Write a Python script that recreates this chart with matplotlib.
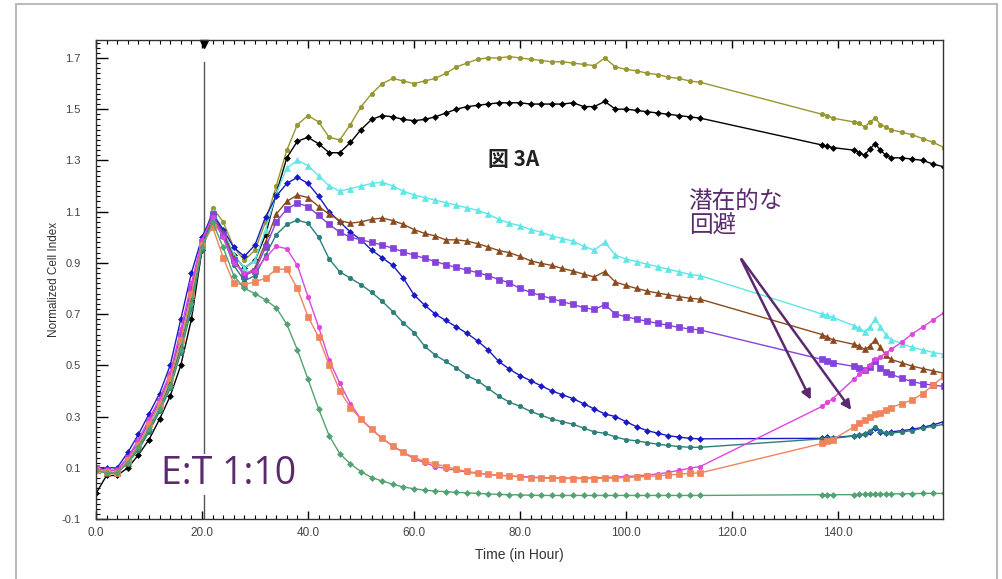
import matplotlib
matplotlib.use("Agg")
import matplotlib.pyplot as plt
from matplotlib.ticker import MultipleLocator, FormatStrFormatter, FixedLocator
from matplotlib.patches import Rectangle

# sample times (hours): dense run up to 114 h, then gap, then tail
hours = list(range(0, 115, 2)) + [137, 138, 139, 143, 144, 145, 146, 147,
                                  148, 149, 150, 152, 154, 156, 158, 160]

olive = [0.09, 0.085, 0.08, 0.12, 0.18, 0.25, 0.33, 0.43, 0.57, 0.75, 0.96,
         1.115, 1.06, 0.96, 0.91, 0.95, 1.06, 1.20, 1.34, 1.44, 1.475,
         1.45, 1.39, 1.38, 1.44, 1.51, 1.56, 1.60, 1.62, 1.61, 1.60,
         1.61, 1.62, 1.64, 1.665, 1.68, 1.695, 1.70, 1.70, 1.705, 1.70,
         1.695, 1.69, 1.685, 1.685, 1.68, 1.675, 1.67, 1.70, 1.665, 1.655,
         1.65, 1.64, 1.635, 1.625, 1.62, 1.61, 1.605,
         1.48, 1.475, 1.465, 1.45, 1.445, 1.43, 1.45, 1.465, 1.44, 1.43,
         1.42, 1.41, 1.40, 1.385, 1.37, 1.35]

black = [0.0, 0.07, 0.07, 0.10, 0.15, 0.21, 0.29, 0.38, 0.50, 0.68, 0.95,
         1.08, 1.02, 0.93, 0.88, 0.91, 1.01, 1.17, 1.31, 1.375, 1.39,
         1.365, 1.33, 1.33, 1.37, 1.42, 1.46, 1.475, 1.47, 1.46, 1.455,
         1.46, 1.47, 1.485, 1.50, 1.51, 1.515, 1.52, 1.525, 1.525, 1.525,
         1.52, 1.52, 1.52, 1.52, 1.525, 1.51, 1.51, 1.53, 1.50, 1.50,
         1.495, 1.49, 1.485, 1.48, 1.475, 1.47, 1.465,
         1.36, 1.355, 1.35, 1.34, 1.33, 1.32, 1.345, 1.365, 1.34, 1.32,
         1.31, 1.31, 1.305, 1.30, 1.285, 1.275]

cyan = [0.09, 0.085, 0.08, 0.13, 0.19, 0.26, 0.34, 0.44, 0.59, 0.77, 0.97,
        1.10, 1.03, 0.93, 0.88, 0.91, 1.03, 1.17, 1.27, 1.30, 1.28,
        1.24, 1.20, 1.18, 1.19, 1.20, 1.21, 1.215, 1.20, 1.18, 1.165,
        1.155, 1.145, 1.135, 1.125, 1.115, 1.105, 1.09, 1.07, 1.055, 1.045,
        1.03, 1.02, 1.005, 0.995, 0.985, 0.965, 0.95, 0.98, 0.93, 0.915,
        0.905, 0.895, 0.885, 0.875, 0.865, 0.855, 0.85,
        0.70, 0.695, 0.687, 0.655, 0.645, 0.632, 0.65, 0.68, 0.65, 0.62,
        0.60, 0.585, 0.57, 0.56, 0.55, 0.543]

blue = [0.10, 0.10, 0.10, 0.16, 0.23, 0.31, 0.39, 0.50, 0.68, 0.86, 1.00,
        1.09, 1.03, 0.96, 0.925, 0.97, 1.08, 1.16, 1.21, 1.234, 1.21,
        1.16, 1.10, 1.06, 1.02, 0.99, 0.95, 0.92, 0.89, 0.84, 0.775,
        0.735, 0.70, 0.675, 0.65, 0.625, 0.595, 0.56, 0.515, 0.485, 0.46,
        0.44, 0.42, 0.40, 0.385, 0.37, 0.35, 0.33, 0.31, 0.30, 0.28,
        0.26, 0.245, 0.235, 0.225, 0.22, 0.215, 0.213,
        0.215, 0.22, 0.218, 0.225, 0.228, 0.232, 0.24, 0.255, 0.24, 0.235,
        0.24, 0.245, 0.25, 0.258, 0.268, 0.28]

brown = [0.09, 0.08, 0.08, 0.12, 0.18, 0.25, 0.33, 0.43, 0.57, 0.75, 0.96,
         1.08, 1.02, 0.92, 0.85, 0.88, 0.98, 1.09, 1.14, 1.165, 1.155,
         1.12, 1.09, 1.065, 1.055, 1.06, 1.07, 1.075, 1.065, 1.05, 1.03,
         1.015, 1.005, 0.99, 0.99, 0.985, 0.975, 0.962, 0.948, 0.94, 0.925,
         0.908, 0.898, 0.89, 0.878, 0.868, 0.856, 0.845, 0.866, 0.825, 0.812,
         0.80, 0.79, 0.782, 0.775, 0.768, 0.762, 0.758,
         0.62, 0.61, 0.60, 0.582, 0.575, 0.562, 0.575, 0.60, 0.57, 0.54,
         0.523, 0.51, 0.497, 0.487, 0.478, 0.469]

purple = [0.10, 0.09, 0.09, 0.14, 0.20, 0.28, 0.36, 0.46, 0.62, 0.80, 0.98,
          1.09, 1.01, 0.91, 0.85, 0.87, 0.96, 1.06, 1.11, 1.133, 1.12,
          1.085, 1.05, 1.02, 1.00, 0.99, 0.98, 0.97, 0.957, 0.943, 0.93,
          0.918, 0.905, 0.893, 0.882, 0.872, 0.862, 0.85, 0.835, 0.822, 0.80,
          0.785, 0.772, 0.76, 0.748, 0.738, 0.725, 0.718, 0.737, 0.70, 0.69,
          0.68, 0.672, 0.664, 0.656, 0.648, 0.642, 0.638,
          0.523, 0.515, 0.51, 0.496, 0.49, 0.48, 0.495, 0.516, 0.49, 0.475,
          0.465, 0.45, 0.436, 0.428, 0.422, 0.418]

teal = [0.09, 0.08, 0.08, 0.12, 0.17, 0.24, 0.32, 0.41, 0.55, 0.72, 0.95,
        1.07, 1.00, 0.89, 0.83, 0.85, 0.93, 1.01, 1.05, 1.067, 1.055,
        1.00, 0.915, 0.865, 0.84, 0.815, 0.785, 0.75, 0.71, 0.665, 0.628,
        0.575, 0.54, 0.515, 0.49, 0.46, 0.44, 0.41, 0.38, 0.356, 0.34,
        0.32, 0.305, 0.29, 0.28, 0.27, 0.255, 0.24, 0.235, 0.22, 0.21,
        0.205, 0.198, 0.192, 0.187, 0.183, 0.18, 0.18,
        0.213, 0.215, 0.215, 0.224, 0.228, 0.232, 0.245, 0.26, 0.245, 0.235,
        0.235, 0.24, 0.245, 0.255, 0.262, 0.27]

magenta = [0.10, 0.09, 0.09, 0.14, 0.21, 0.29, 0.37, 0.47, 0.64, 0.82, 0.99,
           1.08, 1.00, 0.90, 0.86, 0.87, 0.92, 0.965, 0.955, 0.89, 0.768,
           0.65, 0.52, 0.43, 0.35, 0.29, 0.25, 0.215, 0.185, 0.16, 0.135,
           0.12, 0.105, 0.097, 0.09, 0.083, 0.078, 0.074, 0.07, 0.069, 0.066,
           0.064, 0.062, 0.061, 0.06, 0.06, 0.06, 0.061, 0.062, 0.064, 0.066,
           0.068, 0.072, 0.076, 0.082, 0.09, 0.098, 0.105,
           0.34, 0.355, 0.37, 0.446, 0.465, 0.483, 0.503, 0.523, 0.533, 0.548,
           0.562, 0.59, 0.623, 0.65, 0.678, 0.706]

orange = [0.09, 0.085, 0.08, 0.13, 0.19, 0.27, 0.35, 0.45, 0.60, 0.78, 0.97,
          1.04, 0.92, 0.82, 0.815, 0.826, 0.84, 0.875, 0.875, 0.80, 0.69,
          0.61, 0.50, 0.40, 0.335, 0.29, 0.25, 0.215, 0.185, 0.16, 0.14,
          0.125, 0.115, 0.105, 0.094, 0.086, 0.08, 0.075, 0.071, 0.068, 0.064,
          0.062, 0.06, 0.059, 0.058, 0.058, 0.058, 0.058, 0.059, 0.06, 0.062,
          0.064, 0.066, 0.069, 0.072, 0.075, 0.078, 0.08,
          0.195, 0.205, 0.21, 0.26, 0.275, 0.285, 0.30, 0.31, 0.315, 0.325,
          0.335, 0.35, 0.365, 0.39, 0.425, 0.457]

green = [0.09, 0.08, 0.08, 0.12, 0.18, 0.25, 0.33, 0.42, 0.56, 0.74, 0.96,
         1.06, 0.96, 0.85, 0.80, 0.78, 0.755, 0.725, 0.66, 0.56, 0.446,
         0.33, 0.225, 0.155, 0.115, 0.085, 0.062, 0.048, 0.036, 0.025, 0.018,
         0.013, 0.009, 0.007, 0.004, 0.002, 0.0, -0.002, -0.004, -0.005, -0.006,
         -0.007, -0.008, -0.008, -0.008, -0.008, -0.008, -0.008, -0.008, -0.008, -0.008,
         -0.008, -0.008, -0.008, -0.008, -0.008, -0.008, -0.008,
         -0.005, -0.005, -0.005, -0.005, -0.004, -0.004, -0.004, -0.003, -0.003, -0.003,
         -0.002, -0.002, -0.001, 0.0, 0.0, 0.0]

# (values, colour, marker, size)
series = [
    (olive, "#979630", "o", 3.2),
    (black, "#000000", "D", 3.0),
    (cyan, "#5fe6e6", "^", 3.8),
    (blue, "#1a1ac4", "D", 3.0),
    (brown, "#8b4a1e", "^", 3.8),
    (purple, "#8642dc", "s", 3.8),
    (teal, "#2c7f7a", "o", 3.2),
    (magenta, "#e044e0", "o", 3.2),
    (orange, "#f0845a", "s", 3.8),
    (green, "#52a272", "D", 3.0),
]

x_ticks = [0, 20, 40, 60, 80, 100, 120, 140]
y_ticks = [-0.1, 0.1, 0.3, 0.5, 0.7, 0.9, 1.1, 1.3, 1.5, 1.7]
dose_time = 20.4

plt.rcParams['font.family'] = ['Liberation Sans', 'DejaVu Sans']

fig = plt.figure(figsize=(10.02, 5.79), dpi=100)
ax = fig.add_axes([0.0958, 0.1036, 0.8453, 0.8273])

for vals, col, mk, ms in series:
    ax.plot(hours, vals, '-', color=col, lw=1.0, marker=mk, ms=ms,
            markeredgewidth=0.5, markeredgecolor=col)

# compound addition marker
ax.axvline(dose_time, ymax=0.955, color="#555555", lw=1.0, zorder=0)
ax.plot([dose_time], [1.755], marker="v", color="black", ms=6, clip_on=False)

ax.set_xlim(0, 159.8)
ax.set_ylim(-0.1, 1.77)

ax.xaxis.set_major_locator(FixedLocator(x_ticks))
ax.xaxis.set_minor_locator(MultipleLocator(2))
ax.yaxis.set_major_locator(FixedLocator(y_ticks))
ax.yaxis.set_minor_locator(MultipleLocator(0.02))
ax.xaxis.set_major_formatter(FormatStrFormatter('%.1f'))
ax.yaxis.set_major_formatter(FormatStrFormatter('%.1f'))

ax.tick_params(axis='y', which='major', direction='in', length=8.5, width=1,
               labelsize=8, labelcolor="#444444", pad=11, left=True, right=False)
ax.tick_params(axis='y', which='minor', direction='in', length=3, width=0.8,
               left=True, right=False)
ax.tick_params(axis='x', which='major', direction='in', length=6, width=1,
               labelsize=8.5, labelcolor="#444444", pad=6, top=True, bottom=True)
ax.tick_params(axis='x', which='minor', direction='in', length=3, width=0.8,
               top=True, bottom=True)

for sp in ax.spines.values():
    sp.set_color("#333333")
    sp.set_linewidth(1.0)

ax.set_xlabel("Time (in Hour)", fontsize=10, color="#333333", labelpad=6)
ax.set_ylabel("Normalized Cell Index", fontsize=8.5, color="#333333", labelpad=1)

ax.text(12.3, 0.0, "E:T 1:10", fontsize=27, color="#5b2a6e", family="Open Sans",
        ha="left", va="bottom",
        bbox=dict(facecolor="white", edgecolor="none", pad=1))
ax.text(78.8, 1.305, "図 3A", fontsize=15, weight="bold", color="#222222",
        family=["Noto Sans CJK JP", "DejaVu Sans"], ha="center", va="center")
ax.text(111.8, 1.09, "潜在的な\n回避", fontsize=17, color="#5b2a6e",
        family=["Noto Sans CJK JP", "DejaVu Sans"], ha="left", va="center",
        linespacing=1.05)

arrow_style = dict(arrowstyle="-|>", color="#5b2a6e", lw=1.8, mutation_scale=14)
ax.annotate("", xy=(135.1, 0.356), xytext=(121.5, 0.923), arrowprops=arrow_style)
ax.annotate("", xy=(142.8, 0.317), xytext=(121.5, 0.923), arrowprops=arrow_style)

# outer frame of the screenshot
fig.patches.append(Rectangle((16 / 1002, -0.01), (997 - 16) / 1002, 575 / 579 + 0.01,
                             transform=fig.transFigure, fill=False,
                             edgecolor="#bbbbbb", lw=1.5))

fig.savefig("out.png", dpi=100)
